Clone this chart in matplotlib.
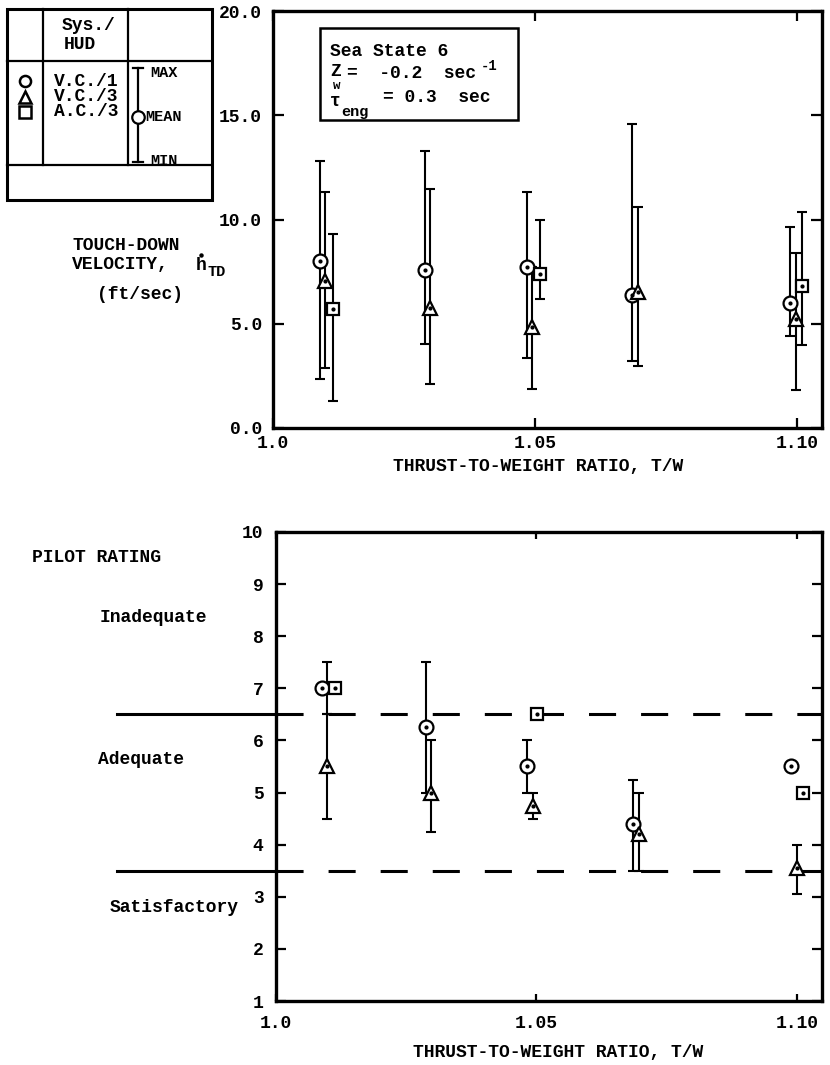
import matplotlib
matplotlib.use('Agg')
import numpy as np
import matplotlib.pyplot as plt
import matplotlib.transforms as mtransforms
from matplotlib.lines import Line2D
from matplotlib.patches import Rectangle

plt.rcParams['font.family'] = ['Liberation Mono', 'DejaVu Sans Mono']
plt.rcParams['font.weight'] = 'bold'
plt.rcParams['lines.scale_dashes'] = False

# ---------------- DATA ----------------
# Top chart: touch-down velocity (ft/sec) vs thrust-to-weight ratio
tw_vc1_top = [1.0090, 1.0290, 1.0485, 1.0685, 1.0987]
vel_vc1_mean = [8.0, 7.6, 7.7, 6.4, 6.0]
vel_vc1_max = [12.8, 13.3, 11.3, 14.6, 9.65]
vel_vc1_min = [2.35, 4.05, 3.35, 3.2, 4.4]

tw_vc3_top = [1.0100, 1.0300, 1.0494, 1.0697, 1.0998]
vel_vc3_mean = [7.05, 5.75, 4.85, 6.5, 5.25]
vel_vc3_max = [11.3, 11.45, 7.7, 10.6, 8.4]
vel_vc3_min = [2.9, 2.1, 1.85, 2.95, 1.8]

tw_ac3_top = [1.0115, 1.0510, 1.1010]
vel_ac3_mean = [5.7, 7.4, 6.8]
vel_ac3_max = [9.3, 10.0, 10.35]
vel_ac3_min = [1.3, 6.2, 4.0]

# Bottom chart: pilot rating vs thrust-to-weight ratio
tw_vc1_pr = [1.0088, 1.0288, 1.0482, 1.0685, 1.0988]
tw_vc1_pr_bar = [1.0098, 1.0288, 1.0482, 1.0685]
pr_vc1_mean = [7.0, 6.25, 5.5, 4.4, 5.5]
pr_vc1_bar_mean = [7.0, 6.25, 5.5, 4.4]
pr_vc1_max = [7.5, 7.5, 6.0, 5.25]
pr_vc1_min = [6.5, 5.0, 5.0, 3.5]

tw_vc3_pr = [1.0098, 1.0298, 1.0493, 1.0697, 1.1000]
pr_vc3_mean = [5.5, 5.0, 4.75, 4.2, 3.55]
pr_vc3_max = [6.5, 6.0, 5.0, 5.0, 4.0]
pr_vc3_min = [4.5, 4.25, 4.5, 3.5, 3.05]

tw_ac3_pr = [1.0113, 1.0501, 1.1011]
pr_ac3_mean = [7.0, 6.5, 5.0]

rating_bounds = [6.5, 3.5]
rating_regions = ['Inadequate', 'Adequate', 'Satisfactory']

tw_ticks = [1.0, 1.05, 1.10]
tw_ticklabels = ['1.0', '1.05', '1.10']
vel_ticks = [0, 5, 10, 15, 20]
vel_ticklabels = ['0.0', '5.0', '10.0', '15.0', '20.0']
pr_ticks = list(range(1, 11))
pr_ticklabels = [str(v) for v in pr_ticks]

legend_systems = ['V.C./1', 'V.C./3', 'A.C./3']
legend_markers = ['o', '^', 's']

# ---------------- LAYOUT ----------------
W, H = 830, 1065
fig = plt.figure(figsize=(W / 100, H / 100), dpi=100)


def fx(x):
    return x / W


def fy(y):
    return 1 - y / H


FS = 13
LW_SPINE = 2.4
LW_BAR = 1.5
MEW = 1.6


def style_axes(ax):
    for s in ax.spines.values():
        s.set_linewidth(LW_SPINE)
    ax.tick_params(axis='both', direction='in', width=1.6, labelsize=FS)


def draw_series(ax, x, mean, lo=None, hi=None, bx=None, bmean=None, marker='o', ms=10):
    if lo is not None:
        bx = x if bx is None else bx
        bmean = mean if bmean is None else bmean
        bm = np.array(bmean)
        ax.errorbar(bx, bm, yerr=[bm - np.array(lo), np.array(hi) - bm], fmt='none',
                    ecolor='black', elinewidth=LW_BAR, capsize=3.3, capthick=LW_BAR, zorder=3)
    ax.plot(x, mean, linestyle='none', marker=marker, ms=ms, mfc='white', mec='black',
            mew=MEW, zorder=5)
    ax.plot(x, mean, linestyle='none', marker='o', ms=2, mfc='black', mec='black', zorder=6)


# ---- top axes ----
ax1 = fig.add_axes([fx(273), fy(428), fx(822) - fx(273), fy(11) - fy(428)])
style_axes(ax1)
ax1.set_xlim(1.0, 1.1048)
ax1.set_ylim(0, 20)
ax1.set_xticks(tw_ticks)
ax1.set_xticklabels(tw_ticklabels, fontweight='bold')
ax1.set_yticks(vel_ticks)
ax1.set_yticklabels(vel_ticklabels, fontweight='bold')
ax1.tick_params(axis='y', length=8, pad=8, right=True)
ax1.tick_params(axis='x', length=7, pad=5, top=True)

draw_series(ax1, tw_vc1_top, vel_vc1_mean, vel_vc1_min, vel_vc1_max, marker='o', ms=10)
draw_series(ax1, tw_vc3_top, vel_vc3_mean, vel_vc3_min, vel_vc3_max, marker='^', ms=10)
draw_series(ax1, tw_ac3_top, vel_ac3_mean, vel_ac3_min, vel_ac3_max, marker='s', ms=9)

# info box
fig.patches.append(Rectangle((fx(320), fy(120)), fx(518) - fx(320), fy(28) - fy(120),
                             transform=fig.transFigure, fill=False, lw=1.8, ec='black'))
fig.text(fx(330), fy(51), 'Sea State 6', fontsize=FS, va='center', ha='left')
fig.text(fx(330), fy(72), 'Z', fontsize=FS, va='center', ha='left')
fig.text(fx(333), fy(86), 'w', fontsize=9, va='center', ha='left')
fig.text(fx(347), fy(73), '=  -0.2  sec', fontsize=FS, va='center', ha='left')
fig.text(fx(481), fy(66), '-1', fontsize=10, va='center', ha='left')
fig.text(fx(330), fy(102), 'τ', fontsize=FS, va='center', ha='left')
fig.text(fx(341), fy(112), 'eng', fontsize=11, va='center', ha='left')
fig.text(fx(383), fy(98), '= 0.3  sec', fontsize=FS, va='center', ha='left')

fig.text(fx(538), fy(467), 'THRUST-TO-WEIGHT RATIO, T/W', fontsize=FS, ha='center', va='center')

# y label block (top)
fig.text(fx(72), fy(246), 'TOUCH-DOWN', fontsize=FS, ha='left', va='center')
fig.text(fx(72), fy(265), 'VELOCITY,', fontsize=FS, ha='left', va='center')
fig.text(fx(196), fy(265), 'h', fontsize=FS, ha='left', va='center')
fig.lines.append(Line2D([fx(201)], [fy(255)], transform=fig.transFigure, marker='o',
                        ms=2.2, color='black', linestyle='none'))
fig.text(fx(207), fy(272), 'TD', fontsize=11, ha='left', va='center')
fig.text(fx(97), fy(294), '(ft/sec)', fontsize=FS, ha='left', va='center')

# legend table
def fline(xs, ys, lw=1.6):
    fig.lines.append(Line2D([fx(v) for v in xs], [fy(v) for v in ys],
                            transform=fig.transFigure, color='black', lw=lw,
                            solid_capstyle='projecting'))

fig.patches.append(Rectangle((fx(7), fy(200)), fx(212) - fx(7), fy(9) - fy(200),
                             transform=fig.transFigure, fill=False, lw=2.2, ec='black'))
fline([43, 43], [9, 165])
fline([128, 128], [9, 165])
fline([7, 212], [61, 61])
fline([7, 212], [165, 165])
fig.text(fx(62), fy(25), 'Sys./', fontsize=FS, ha='left', va='center')
fig.text(fx(64), fy(45), 'HUD', fontsize=FS, ha='left', va='center')
for i, (lab, mk) in enumerate(zip(legend_systems, legend_markers)):
    yy = 81 + i * 15.5
    fig.lines.append(Line2D([fx(25)], [fy(yy)], transform=fig.transFigure, marker=mk,
                            ms=8, mfc='white', mec='black', mew=1.8, linestyle='none'))
    fig.text(fx(54), fy(yy), lab, fontsize=FS, ha='left', va='center')
fline([138, 138], [68, 162])
fline([133, 143], [68, 68])
fline([133, 143], [162, 162])
fig.lines.append(Line2D([fx(138)], [fy(117)], transform=fig.transFigure, marker='o',
                        ms=9, mfc='white', mec='black', mew=1.6, linestyle='none'))
fig.text(fx(150), fy(73), 'MAX', fontsize=11, ha='left', va='center')
fig.text(fx(145), fy(117), 'MEAN', fontsize=11, ha='left', va='center')
fig.text(fx(150), fy(161), 'MIN', fontsize=11, ha='left', va='center')

# ---- bottom axes ----
ax2 = fig.add_axes([fx(276), fy(1001), fx(822) - fx(276), fy(532) - fy(1001)])
style_axes(ax2)
ax2.set_xlim(1.0, 1.1048)
ax2.set_ylim(1, 10)
ax2.set_xticks(tw_ticks)
ax2.set_xticklabels(tw_ticklabels, fontweight='bold')
ax2.set_yticks(pr_ticks)
ax2.set_yticklabels(pr_ticklabels, fontweight='bold')
ax2.tick_params(axis='y', length=7, pad=9, right=True)
ax2.tick_params(axis='x', length=5, pad=10, top=True)

for b in rating_bounds:
    ax2.axhline(b, color='black', lw=2.2, dashes=(19.5, 18), zorder=2)
    tr = mtransforms.blended_transform_factory(ax2.transAxes, ax2.transData)
    ax2.plot([-(276 - 117) / 546, 0], [b, b], color='black', lw=2.2, transform=tr,
             clip_on=False, zorder=2)

draw_series(ax2, tw_vc1_pr, pr_vc1_mean, pr_vc1_min, pr_vc1_max, bx=tw_vc1_pr_bar,
            bmean=pr_vc1_bar_mean, marker='o', ms=10)
draw_series(ax2, tw_vc3_pr, pr_vc3_mean, pr_vc3_min, pr_vc3_max, marker='^', ms=10)
draw_series(ax2, tw_ac3_pr, pr_ac3_mean, marker='s', ms=9)

fig.text(fx(32), fy(558), 'PILOT RATING', fontsize=FS, ha='left', va='center')
fig.text(fx(100), fy(617), rating_regions[0], fontsize=FS, ha='left', va='center')
fig.text(fx(98), fy(760), rating_regions[1], fontsize=FS, ha='left', va='center')
fig.text(fx(110), fy(907), rating_regions[2], fontsize=FS, ha='left', va='center')

fig.text(fx(558), fy(1053), 'THRUST-TO-WEIGHT RATIO, T/W', fontsize=FS, ha='center', va='center')

fig.savefig('out.png', dpi=100)
